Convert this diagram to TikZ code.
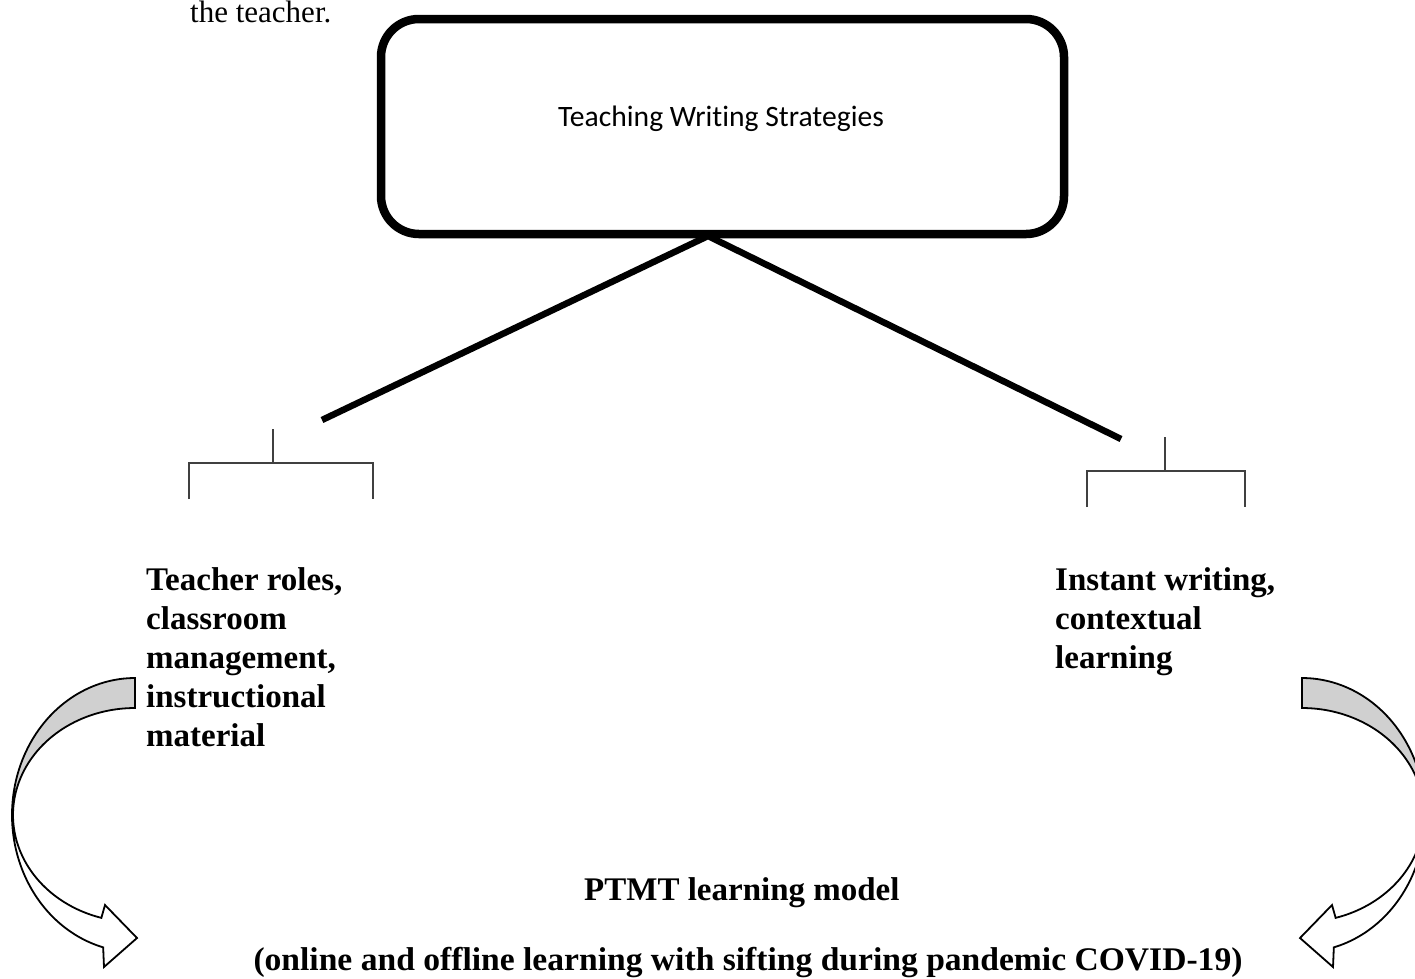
\documentclass[tikz,border=0pt]{standalone}
\usepackage{fontspec}
\setmainfont{Liberation Serif}
\newfontfamily\calibrifont[Ligatures={NoCommon}]{Carlito}
\usetikzlibrary{calc}
\definecolor{bracketgray}{HTML}{404040}
\definecolor{bandgray}{HTML}{D0D0D0}
\tikzset{
  mainbox/.style={draw, line width=8.5pt, rounded corners=38pt, minimum width=683pt, minimum height=215pt, inner sep=0pt, fill=white},
  thickline/.style={line width=6.5pt, line join=miter},
  bracketline/.style={line width=1.5pt, draw=bracketgray},
  arrowline/.style={line width=1.8pt, line join=miter, draw=black},
  boldtext/.style={font=\fontsize{33}{39}\selectfont\bfseries, inner sep=0pt, align=left},
  plaintext/.style={inner sep=0pt}
}
\newcommand\mycurvedarrow{%
  \filldraw[arrowline, fill=bandgray]
    plot[domain=90:180, samples=50] ({135+123*cos(\x)},{815-137*sin(\x)})
    -- plot[domain=180:90, samples=50] ({135+122*cos(\x)},{815-107*sin(\x)}) -- cycle;
  \filldraw[arrowline, fill=white]
    plot[domain=180:255, samples=50] ({135+123*cos(\x)},{815-137*sin(\x)})
    -- (104,967) -- (137,938) -- (105,905)
    -- plot[domain=254:180, samples=50] ({135+122*cos(\x)},{815-107*sin(\x)}) -- cycle;
}
\begin{document}
\begin{tikzpicture}[x=1pt,y=-1pt]
\useasboundingbox (0,0) rectangle (1415,978);
\clip (0,0) rectangle (1415,978);

% clipped line of running text at the top
\node[plaintext, anchor=base west, font=\fontsize{31}{36}\selectfont] (teacher) at (190,22) {the teacher.};

% connectors
\coordinate (apex) at (708,236);
\coordinate (lend) at (322,420);
\coordinate (rend) at (1121,439);
\draw[thickline] (lend) -- (apex) -- (rend);

% main box
\node[mainbox] (top) at (722.5,126.5) {};
\node[plaintext, font=\calibrifont\fontsize{29.6}{35}\selectfont] (toplabel) at (721,119) {Teaching Writing Strategies};

% left bracket
\coordinate (lstem) at (273,429);
\draw[bracketline] (lstem) -- (273,463);
\draw[bracketline] (189,499) -- (189,463) -- (373,463) -- (373,499);

% right bracket
\coordinate (rstem) at (1165,437);
\draw[bracketline] (rstem) -- (1165,471);
\draw[bracketline] (1087,507) -- (1087,471) -- (1245,471) -- (1245,507);

% texts
\node[boldtext, anchor=north west] (ltext) at (146,567) {Teacher roles,\\classroom\\management,\\instructional\\material};
\node[boldtext, anchor=north west] (rtext) at (1055,567) {Instant writing,\\contextual\\learning};
\node[boldtext, anchor=base west] (ptmt) at (584,900) {PTMT learning model};
\node[boldtext, anchor=base] (online) at (748,970) {\resizebox{989pt}{\height}{(online and offline learning with sifting during pandemic COVID-19)}};

% curved arrows
\mycurvedarrow
\begin{scope}[xshift=1437pt, xscale=-1]
\mycurvedarrow
\end{scope}
\end{tikzpicture}
\end{document}
